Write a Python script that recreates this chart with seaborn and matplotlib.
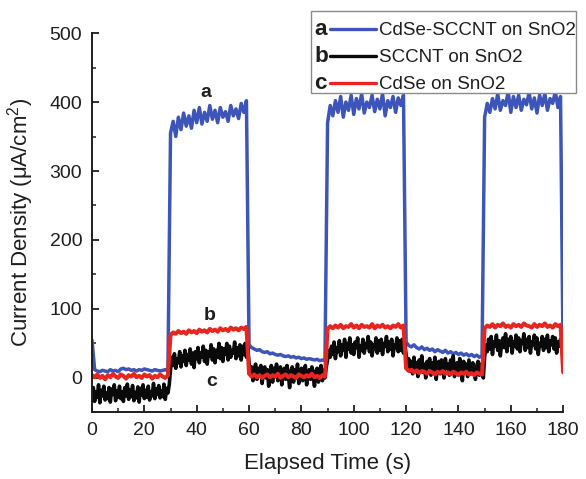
import matplotlib
matplotlib.use("Agg")
import matplotlib.pyplot as plt
import numpy as np
import pandas as pd
import seaborn as sns
from matplotlib.legend_handler import HandlerBase
from matplotlib.lines import Line2D
from matplotlib.text import Text

# ---- photocurrent transients (light switched on/off every 30 s) ----
# a and c sampled once per second, b sampled every half second
time_1s = np.arange(0, 181, 1.0)
time_half = np.arange(0, 180.5, 0.5)

# a: CdSe-SCCNT on SnO2
a_dark1 = [55, 12, 10, 9, 11, 10, 9, 12, 10, 11, 9, 13, 14, 12, 13, 11, 12, 10, 12, 11,
           13, 12, 11, 10, 12, 11, 10, 11, 12, 10]
a_light1 = [355, 372, 350, 378, 360, 384, 365, 380, 362, 388, 370, 392, 368, 385, 372, 395,
            375, 388, 370, 392, 378, 386, 372, 395, 380, 390, 376, 398, 385, 402]
a_dark2 = [48, 44, 42, 40, 41, 38, 37, 38, 35, 36, 34, 33, 34, 32, 31, 32, 30, 31, 29, 30,
           28, 29, 27, 28, 27, 26, 27, 25, 26, 25]
a_light2 = [370, 395, 380, 402, 385, 408, 378, 400, 388, 410, 382, 405, 390, 412, 384, 400,
            392, 410, 386, 404, 390, 412, 380, 402, 392, 408, 385, 406, 395, 410]
a_dark3 = [52, 47, 45, 48, 44, 42, 45, 41, 43, 40, 42, 38, 41, 39, 37, 40, 36, 38, 35, 37,
           34, 36, 33, 35, 32, 34, 31, 33, 30, 32]
a_light3 = [378, 398, 385, 405, 390, 412, 388, 402, 395, 415, 385, 408, 392, 410, 388, 404,
            396, 414, 390, 406, 384, 410, 395, 412, 388, 405, 398, 415, 392, 408]
a_end = [25]

# b: SCCNT on SnO2 (half-second samples)
b_dark1 = [-30, -14, -34, -20, -28, -10, -36, -18, -26, -12, -32, -22, -30, -14, -35, -16, -24, -10, -33, -19,
           -28, -12, -30, -20, -34, -14, -26, -9, -31, -17, -27, -11, -33, -21, -29, -13, -35, -15, -25, -10,
           -30, -18, -28, -12, -32, -20, -26, -8, -30, -16, -24, -11, -29, -19, -27, -9, -31, -15, -22, -10]
b_light1 = [12, 30, 18, 35, 14, 28, 22, 38, 16, 32, 24, 40, 18, 34, 26, 42, 20, 36, 15, 38,
            28, 44, 22, 36, 30, 46, 24, 40, 20, 38, 32, 48, 26, 42, 22, 40, 30, 50, 28, 44,
            24, 42, 34, 50, 26, 46, 30, 40, 36, 52, 28, 44, 32, 48, 26, 46, 34, 50, 30, 44]
b_dark2 = [22, 8, 16, -4, 12, 20, -2, 14, 4, 18, -8, 10, 16, 0, 12, -12, 6, 18, -6, 14,
           2, 20, -4, 10, 16, -10, 8, 14, -2, 18, 4, -14, 10, 16, -6, 12, 0, 20, -8, 8,
           14, -4, 10, 18, -10, 6, 12, -2, 16, 2, -12, 10, 14, -6, 8, 18, -4, 12, 0, 16]
b_light2 = [26, 40, 30, 46, 34, 52, 28, 44, 38, 54, 32, 48, 40, 56, 30, 50, 42, 58, 36, 48,
            34, 52, 44, 58, 30, 46, 40, 56, 36, 50, 44, 60, 38, 52, 32, 48, 42, 58, 36, 54,
            40, 56, 34, 50, 46, 60, 38, 52, 42, 56, 32, 48, 44, 58, 38, 54, 40, 56, 36, 50]
b_dark3 = [34, 20, 28, 10, 24, 6, 30, 14, 22, 2, 26, 12, 32, 8, 20, 0, 24, 16, 28, 4,
           22, 10, 30, -2, 18, 24, 6, 26, 12, 0, 28, 14, 20, 4, 26, 10, 32, 2, 18, 22,
           8, 28, 14, -4, 24, 12, 20, 2, 26, 16, 6, 22, 10, -2, 18, 24, 4, 20, 14, 0]
b_light3 = [30, 48, 38, 56, 42, 60, 34, 52, 46, 62, 40, 54, 32, 50, 58, 44, 64, 38, 56, 48,
            60, 36, 52, 46, 62, 42, 58, 38, 54, 50, 64, 40, 56, 44, 60, 36, 52, 48, 62, 42,
            58, 34, 50, 46, 60, 40, 56, 44, 62, 38, 54, 48, 60, 42, 58, 36, 52, 46, 56, 44]
b_end = [40]

# c: CdSe on SnO2
c_dark1 = [4, 1, 5, 0, 3, -2, 4, 1, 6, 2, 0, 5, 3, -1, 4, 2, 6, 1, 3, 0,
           5, 2, 4, -1, 3, 1, 5, 2, 0, 4]
c_light1 = [62, 66, 64, 68, 65, 67, 64, 69, 66, 68, 65, 70, 67, 69, 66, 71, 68, 70, 67, 72,
            69, 71, 68, 73, 70, 72, 69, 73, 71, 74]
c_dark2 = [6, 2, 5, 1, 4, 0, 3, 5, 1, 4, 2, 6, 0, 3, 5, 1, 4, 2, 0, 5,
           3, 1, 4, 2, 6, 1, 3, 0, 4, 2]
c_light2 = [71, 75, 72, 76, 73, 77, 72, 75, 74, 78, 73, 76, 72, 77, 74, 75, 73, 78, 72, 76,
            74, 77, 73, 75, 72, 76, 74, 78, 73, 76]
c_dark3 = [14, 10, 12, 8, 11, 7, 10, 9, 6, 10, 8, 5, 9, 7, 10, 6, 8, 5, 9, 7,
           4, 8, 6, 9, 5, 7, 4, 8, 6, 5]
c_light3 = [72, 76, 74, 78, 73, 77, 75, 79, 74, 76, 73, 78, 75, 77, 74, 79, 76, 75, 73, 78,
            74, 77, 75, 79, 74, 76, 73, 78, 75, 77]
c_end = [8]

series_letters = ["a", "b", "c"]
series_names = ["CdSe-SCCNT on SnO2", "SCCNT on SnO2", "CdSe on SnO2"]
series_colors = ["#3d55b8", "#0a0a0a", "#e8261f"]
series_widths = [2.5, 2.6, 2.9]

curve_a = a_dark1 + a_light1 + a_dark2 + a_light2 + a_dark3 + a_light3 + a_end
curve_b = b_dark1 + b_light1 + b_dark2 + b_light2 + b_dark3 + b_light3 + b_end
curve_c = c_dark1 + c_light1 + c_dark2 + c_light2 + c_dark3 + c_light3 + c_end

curves = {
    series_names[0]: pd.DataFrame({"time": time_1s, "current": curve_a}),
    series_names[1]: pd.DataFrame({"time": time_half, "current": curve_b}),
    series_names[2]: pd.DataFrame({"time": time_1s, "current": curve_c}),
}

# ---- style ----
sns.set_style("ticks")
plt.rcParams["font.family"] = ["Liberation Sans", "DejaVu Sans"]
plt.rcParams["mathtext.fontset"] = "custom"
plt.rcParams["mathtext.rm"] = "Liberation Sans"
plt.rcParams["mathtext.it"] = "Liberation Sans:italic"
text_color = "#1e1e1e"

fig = plt.figure(figsize=(5.86, 4.79), dpi=100)
ax = fig.add_axes([0.157, 0.139, 0.804, 0.792])

# blue first, then black, red on top
for name, color, lw in zip(series_names, series_colors, series_widths):
    sns.lineplot(data=curves[name], x="time", y="current", color=color,
                 estimator=None, sort=False, linewidth=lw, ax=ax)

ax.set_xlim(0, 180)
ax.set_ylim(-50, 500)
ax.set_xticks(np.arange(0, 181, 20))
ax.set_xticks(np.arange(10, 180, 20), minor=True)
ax.set_yticks(np.arange(0, 501, 100))
ax.set_yticks(np.arange(-50, 500, 100), minor=True)

sns.despine(ax=ax)
for side in ("left", "bottom"):
    ax.spines[side].set_linewidth(1.4)
    ax.spines[side].set_color(text_color)
ax.tick_params(which="major", direction="in", length=5, width=1.3,
               labelsize=14, pad=7, colors=text_color)
ax.tick_params(which="minor", direction="in", length=3, width=1.1, colors=text_color)

ax.set_xlabel("Elapsed Time (s)", fontsize=16, color=text_color, labelpad=10)
ax.set_ylabel("Current Density (μA/cm$^{2}$)", fontsize=16, color=text_color, labelpad=10)

# curve letters
ax.text(43.5, 414, "a", fontsize=14, fontweight="bold", ha="center", va="center", color=text_color)
ax.text(45.0, 91, "b", fontsize=14, fontweight="bold", ha="center", va="center", color=text_color)
ax.text(45.8, -5, "c", fontsize=14, fontweight="bold", ha="center", va="center", color=text_color)


class LetterLineHandler(HandlerBase):
    """Legend handle: bold series letter followed by a line sample."""

    def __init__(self, letter, **kw):
        super().__init__(**kw)
        self.letter = letter

    def create_artists(self, legend, orig_handle, xdescent, ydescent, width, height,
                       fontsize, trans):
        y = height / 2 - ydescent
        txt = Text(-xdescent + fontsize * 0.2, y - fontsize * 0.33, self.letter,
                   fontsize=fontsize * 1.2, fontweight="bold",
                   ha="left", va="baseline", color=text_color, transform=trans)
        x0 = -xdescent + fontsize * 1.0
        line = Line2D([x0, width - xdescent], [y, y], color=orig_handle.get_color(),
                      linewidth=2.4, transform=trans)
        return [txt, line]


handles = [Line2D([], [], color=c) for c in series_colors]
handler_map = {h: LetterLineHandler(l) for h, l in zip(handles, series_letters)}
leg = ax.legend(handles, series_names, handler_map=handler_map,
                title=" ", title_fontsize=1,
                loc="upper right", bbox_to_anchor=(1.028, 1.058), borderaxespad=0,
                fontsize=13.5, handlelength=3.5, handletextpad=0.16, labelspacing=0.53,
                borderpad=0.0, fancybox=False, framealpha=1, edgecolor="#8a8a8a")
leg.get_frame().set_linewidth(1.0)
for t in leg.get_texts():
    t.set_color(text_color)

fig.savefig("out.png", dpi=100)
